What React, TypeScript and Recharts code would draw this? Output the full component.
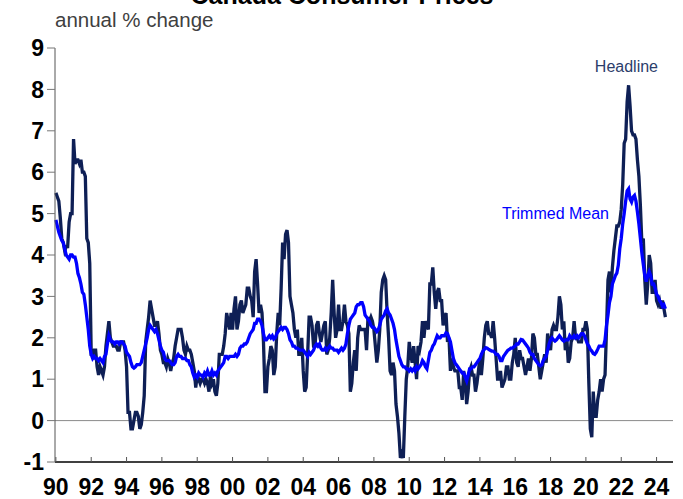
import { LineChart, Line, XAxis, YAxis, ReferenceLine } from 'recharts'

const FONT = '"Liberation Sans", Arial, sans-serif'
const START_YEAR = 1990

// Headline CPI, annual % change, monthly from Jan 1990
const headline1990s = [
  5.5, 5.4, 5.3, 4.9, 4.4, 4.3, 4.1, 4.2, 4.2, 4.8, 5.0, 5.0,
  6.8, 6.2, 6.3, 6.3, 6.2, 6.3, 6.0, 6.0, 5.9, 4.4, 4.3, 3.8,
  1.6, 1.6, 1.7, 1.7, 1.3, 1.1, 1.3, 1.2, 1.1, 1.3, 1.8, 2.1,
  2.4, 2.0, 1.9, 1.8, 1.8, 1.8, 1.7, 1.7, 1.9, 1.9, 1.9, 1.7,
  1.3, 0.2, 0.2, -0.2, -0.2, 0.0, 0.2, 0.2, 0.1, -0.2, -0.1, 0.2,
  0.6, 1.9, 2.2, 2.5, 2.9, 2.7, 2.5, 2.3, 2.3, 2.4, 2.1, 1.7,
  1.6, 1.4, 1.4, 1.3, 1.5, 1.4, 1.2, 1.4, 1.5, 1.8, 2.0, 2.2,
  2.2, 2.2, 2.0, 1.7, 1.6, 1.8, 1.7, 1.7, 1.6, 1.4, 1.2, 0.8,
  1.1, 1.0, 0.9, 1.0, 1.0, 0.9, 1.0, 0.9, 0.7, 1.1, 0.9, 1.0,
  0.7, 0.6, 0.9, 1.6, 1.6, 1.6, 1.8, 2.1, 2.6, 2.4, 2.2, 2.6,
]
const headline2000s = [
  2.2, 2.7, 3.0, 2.2, 2.4, 2.8, 2.9, 2.6, 2.7, 2.8, 3.2, 3.2,
  3.0, 2.9, 2.5, 3.6, 3.9, 3.3, 2.6, 2.8, 2.6, 1.9, 0.7, 0.7,
  1.3, 1.5, 1.8, 1.7, 1.1, 1.3, 2.1, 2.6, 2.3, 3.2, 4.3, 3.9,
  4.5, 4.6, 4.3, 3.0, 2.8, 2.6, 2.2, 2.0, 2.2, 1.6, 1.6, 2.0,
  1.2, 0.7, 0.8, 1.6, 2.5, 2.5, 2.3, 1.8, 1.8, 2.3, 2.4, 2.1,
  1.9, 2.1, 2.3, 2.4, 1.6, 1.7, 2.0, 2.6, 3.4, 2.6, 2.0, 2.2,
  2.8, 2.2, 2.2, 2.4, 2.8, 2.4, 2.3, 2.1, 0.7, 0.9, 1.4, 1.7,
  1.2, 2.0, 2.3, 2.2, 2.2, 2.2, 2.2, 1.7, 2.5, 2.4, 2.5, 2.4,
  2.2, 1.8, 1.4, 1.7, 2.2, 3.1, 3.4, 3.5, 3.4, 2.6, 2.0, 1.2,
  1.1, 1.4, 1.2, 0.4, 0.1, -0.3, -0.9, -0.8, -0.9, 0.1, 1.0, 1.3,
]
const headline2010s = [
  1.9, 1.6, 1.4, 1.8, 1.4, 1.0, 1.8, 1.7, 1.9, 2.4, 2.0, 2.4,
  2.3, 2.2, 3.3, 3.3, 3.7, 3.1, 2.7, 3.1, 3.2, 2.9, 2.9, 2.3,
  2.5, 2.6, 1.9, 2.0, 1.2, 1.5, 1.3, 1.2, 1.2, 1.2, 0.8, 0.8,
  0.5, 1.2, 1.0, 0.4, 0.7, 1.2, 1.3, 1.1, 1.1, 0.7, 0.9, 1.2,
  1.5, 1.1, 1.5, 2.0, 2.3, 2.4, 2.1, 2.1, 2.0, 2.4, 2.0, 1.5,
  1.0, 1.0, 1.2, 0.8, 0.9, 1.0, 1.3, 1.3, 1.0, 1.0, 1.4, 1.6,
  2.0, 1.4, 1.3, 1.7, 1.5, 1.5, 1.3, 1.1, 1.3, 1.5, 1.2, 1.5,
  2.1, 2.0, 1.6, 1.6, 1.3, 1.0, 1.2, 1.4, 1.6, 1.4, 2.1, 1.9,
  1.7, 2.2, 2.3, 2.2, 2.2, 2.5, 3.0, 2.8, 2.2, 2.4, 1.7, 2.0,
  1.4, 1.5, 1.9, 2.0, 2.4, 2.0, 2.0, 1.9, 1.9, 1.9, 2.2, 2.2,
]
const headline2020s = [
  2.4, 2.2, 0.9, -0.2, -0.4, 0.7, 0.1, 0.1, 0.5, 0.7, 1.0, 0.7,
  1.0, 1.1, 2.2, 3.4, 3.6, 3.1, 3.7, 4.1, 4.4, 4.7, 4.7, 4.8,
  5.1, 5.7, 6.7, 6.8, 7.7, 8.1, 7.6, 7.0, 6.9, 6.9, 6.8, 6.3,
  5.9, 5.2, 4.3, 4.4, 3.4, 2.8, 3.3, 4.0, 3.8, 3.1, 3.1, 3.4,
  2.9, 2.8, 2.9, 2.7, 2.9, 2.7, 2.5,
]

// Trimmed mean CPI, annual % change, monthly from Jan 1990
const trim1990s = [
  4.85, 4.7, 4.55, 4.45, 4.35, 4.3, 4.15, 4.0, 3.95, 3.9, 4.0, 4.0,
  3.95, 3.95, 3.8, 3.55, 3.45, 3.3, 3.1, 3.05, 2.8, 2.5, 2.2, 1.8,
  1.6, 1.5, 1.55, 1.5, 1.5, 1.45, 1.5, 1.45, 1.4, 1.55, 1.6, 1.85,
  2.05, 1.95, 1.9, 1.9, 1.85, 1.9, 1.9, 1.85, 1.9, 1.9, 1.85, 1.8,
  1.65, 1.6, 1.55, 1.4, 1.3, 1.27, 1.3, 1.35, 1.35, 1.35, 1.4, 1.55,
  1.7, 1.85, 2.0, 2.2, 2.3, 2.25, 2.2, 2.15, 2.2, 2.1, 1.95, 1.8,
  1.7, 1.65, 1.5, 1.45, 1.45, 1.45, 1.4, 1.35, 1.35, 1.4, 1.55, 1.6,
  1.55, 1.55, 1.5, 1.5, 1.5, 1.45, 1.45, 1.35, 1.3, 1.15, 1.05, 1.1,
  1.05, 1.15, 1.1, 1.1, 1.05, 1.15, 1.1, 1.2, 1.1, 1.1, 1.2, 1.1,
  1.15, 1.1, 1.2, 1.25, 1.3, 1.35, 1.4, 1.55, 1.55, 1.5, 1.55, 1.55,
]
const trim2000s = [
  1.55, 1.55, 1.6, 1.55, 1.6, 1.75, 1.8, 1.8, 1.85, 1.85, 1.9, 2.0,
  2.1, 2.15, 2.2, 2.35, 2.35, 2.45, 2.45, 2.4, 2.3, 2.1, 1.95, 1.95,
  2.0, 2.05, 2.0, 2.05, 1.97, 2.0, 2.1, 2.15, 2.2, 2.25, 2.2, 2.25,
  2.25, 2.2, 2.1, 1.95, 1.9, 1.8, 1.8, 1.75, 1.75, 1.72, 1.7, 1.7,
  1.7, 1.65, 1.6, 1.55, 1.65, 1.6, 1.65, 1.7, 1.8, 1.85, 1.8, 1.85,
  1.75, 1.7, 1.7, 1.75, 1.7, 1.75, 1.8, 1.75, 1.75, 1.7, 1.7, 1.7,
  1.65, 1.7, 1.75, 1.7, 1.75, 1.85, 2.1, 2.3, 2.45, 2.5, 2.55, 2.6,
  2.75, 2.8, 2.8, 2.85, 2.85, 2.75, 2.55, 2.5, 2.45, 2.4, 2.3, 2.25,
  2.25, 2.2, 2.15, 2.2, 2.3, 2.45, 2.5, 2.55, 2.65, 2.7, 2.6, 2.55,
  2.45, 2.35, 2.2, 1.95, 1.75, 1.55, 1.45, 1.35, 1.3, 1.3, 1.25, 1.25,
]
const trim2010s = [
  1.2, 1.25, 1.2, 1.25, 1.2, 1.3, 1.25, 1.3, 1.35, 1.45, 1.4, 1.3,
  1.25, 1.45, 1.65, 1.7, 1.8, 1.85, 1.95, 2.05, 2.0, 2.0, 2.05, 2.05,
  2.05, 2.12, 2.1, 2.0, 1.9, 1.7, 1.5, 1.4, 1.35, 1.3, 1.25, 1.2,
  1.15, 1.15, 1.05, 0.96, 1.1, 1.25, 1.25, 1.3, 1.3, 1.35, 1.4, 1.45,
  1.5, 1.6, 1.68, 1.72, 1.76, 1.75, 1.72, 1.7, 1.68, 1.68, 1.65, 1.6,
  1.6, 1.55, 1.45, 1.45, 1.55, 1.6, 1.65, 1.7, 1.72, 1.75, 1.75, 1.78,
  1.8, 1.85, 1.85, 1.9, 1.96, 1.95, 1.9, 1.85, 1.8, 1.75, 1.65, 1.6,
  1.6, 1.5, 1.45, 1.4, 1.35, 1.32, 1.35, 1.45, 1.5, 1.55, 1.7, 1.85,
  1.95, 2.0, 1.95, 1.92, 1.95, 2.0, 2.05, 2.0, 1.95, 1.92, 1.95, 1.95,
  1.95, 2.05, 2.0, 2.0, 2.05, 2.0, 2.05, 2.0, 2.05, 2.1, 2.1, 2.05,
]
const trim2020s = [
  1.95, 1.85, 1.8, 1.72, 1.68, 1.62, 1.6, 1.65, 1.72, 1.8, 1.8, 1.8,
  1.8, 1.95, 2.3, 2.55, 2.85, 3.0, 3.3, 3.4, 3.5, 3.56, 3.75, 4.15,
  4.4, 4.75, 5.0, 5.3, 5.55, 5.6, 5.35, 5.28, 5.4, 5.44, 5.3, 5.04,
  4.75, 4.4, 4.05, 3.77, 3.5, 3.36, 3.5, 3.6, 3.5, 3.3, 3.3, 3.2,
  3.05, 3.0, 2.9, 2.85, 2.76, 2.8, 2.7,
]

const xTicks = [1990, 1992, 1994, 1996, 1998, 2000, 2002, 2004, 2006, 2008, 2010, 2012, 2014, 2016, 2018, 2020, 2022, 2024]
const yTicks = [-1, 0, 1, 2, 3, 4, 5, 6, 7, 8, 9]

const headlineValues = [...headline1990s, ...headline2000s, ...headline2010s, ...headline2020s]
const trimValues = [...trim1990s, ...trim2000s, ...trim2010s, ...trim2020s]

const data = headlineValues.map((v, i) => ({
  t: START_YEAR + i / 12,
  headline: v,
  trim: trimValues[i],
}))

const X_DOMAIN = [1989.95, 2024.93]

export default function App() {
  return (
    <div style={{ position: 'absolute', left: 0, top: 0, width: 683, height: 499, background: '#fff' }}>
      <LineChart width={683} height={499} data={data} margin={{ top: 48, right: 10, bottom: 0, left: 0 }}>
        <XAxis
          dataKey="t"
          type="number"
          domain={X_DOMAIN}
          ticks={xTicks}
          interval={0}
          tickFormatter={(v: number) => String(Math.round(v) % 100).padStart(2, '0')}
          height={37}
          tickSize={-5}
          tickMargin={22}
          axisLine={{ stroke: '#000', strokeWidth: 1.5 }}
          tickLine={{ stroke: '#555' }}
          tick={{ fill: '#000', fontSize: 23, fontWeight: 700, fontFamily: FONT }}
        />
        <XAxis
          xAxisId="top"
          orientation="top"
          dataKey="t"
          type="number"
          domain={X_DOMAIN}
          height={0}
          tick={false}
          tickLine={false}
          axisLine={{ stroke: '#444' }}
        />
        <YAxis
          type="number"
          domain={[-1, 9]}
          ticks={yTicks}
          interval={0}
          width={55}
          tickSize={8}
          tickMargin={3}
          axisLine={{ stroke: '#555' }}
          tickLine={{ stroke: '#777' }}
          tick={{ fill: '#000', fontSize: 23, fontWeight: 700, fontFamily: FONT }}
        />
        <YAxis
          yAxisId="right"
          orientation="right"
          type="number"
          domain={[-1, 9]}
          width={0}
          tick={false}
          tickLine={false}
          axisLine={{ stroke: '#444' }}
        />
        <ReferenceLine y={0} stroke="#8a8a8a" strokeWidth={1} />
        <Line
          type="linear"
          dataKey="headline"
          stroke="#0e1f55"
          strokeWidth={3.3}
          dot={false}
          isAnimationActive={false}
        />
        <Line
          type="linear"
          dataKey="trim"
          stroke="#0000ff"
          strokeWidth={3.3}
          dot={false}
          isAnimationActive={false}
        />
      </LineChart>
      <svg
        width={683}
        height={499}
        style={{ position: 'absolute', left: 0, top: 0, pointerEvents: 'none' }}
      >
        <text x={342} y={4} textAnchor="middle" fontFamily={FONT} fontSize={25} fontWeight={700} fill="#000">
          Canada Consumer Prices
        </text>
        <text x={55} y={27} fontFamily={FONT} fontSize={20.5} fill="#404040">
          annual % change
        </text>
        <text x={658} y={72} textAnchor="end" fontFamily={FONT} fontSize={16} fill="#2b3d6b">
          Headline
        </text>
        <text x={609} y={219} textAnchor="end" fontFamily={FONT} fontSize={16} fill="#0000ff">
          Trimmed Mean
        </text>
      </svg>
    </div>
  )
}
